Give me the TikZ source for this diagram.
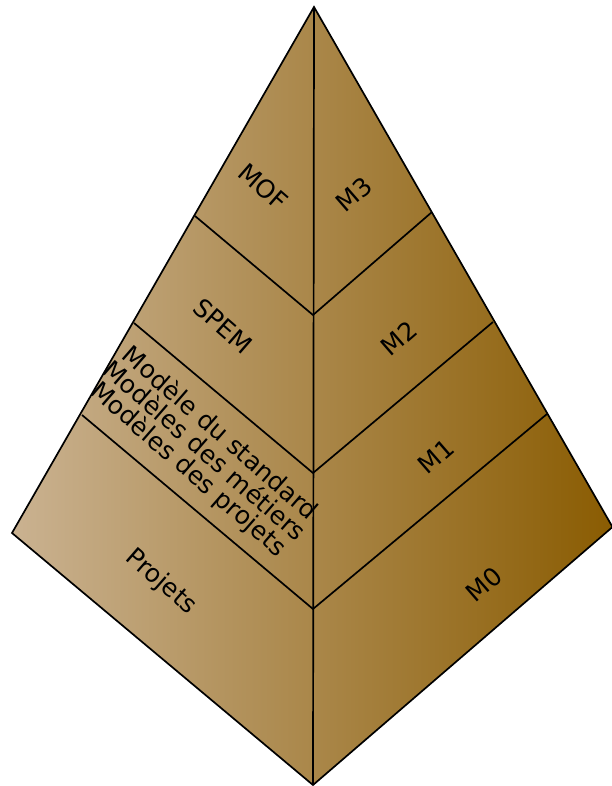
\documentclass[tikz,border=0pt]{standalone}
\usepackage{fontspec}
\setmainfont{DejaVu Sans}
\definecolor{lightend}{RGB}{202,178,145}
\definecolor{darkend}{RGB}{138,92,2}
\begin{document}
\begin{tikzpicture}[x=1pt,y=-1pt,
  edge/.style={draw=black,line width=1.7pt},
  lbl/.style={font=\fontsize{25}{24}\selectfont,text=black,inner sep=0pt,align=center},
  lefttxt/.style={lbl,rotate=-41},
  righttxt/.style={lbl,rotate=41}]
\useasboundingbox (0,0) rectangle (612,786);
% outer vertices
\coordinate (top) at (314,7);
\coordinate (lft) at (12,533);
\coordinate (rgt) at (612.5,527);
\coordinate (bot) at (313,785);
% junctions
\coordinate (l1) at (195,216);
\coordinate (l2) at (134,323);
\coordinate (l3) at (82,415);
\coordinate (r1) at (432,212);
\coordinate (r2) at (493,322);
\coordinate (r3) at (547,414);
\coordinate (c1) at (313,315);
\coordinate (c2) at (313,473);
\coordinate (c3) at (313,609);
\shade[left color=lightend,right color=darkend] (top) -- (rgt) -- (bot) -- (lft) -- cycle;
\draw[edge] (top) -- (rgt) -- (bot) -- (lft) -- cycle;
\draw[edge] (top) -- (bot);
\draw[edge] (l1) -- (c1) -- (r1);
\draw[edge] (l2) -- (c2) -- (r2);
\draw[edge] (l3) -- (c3) -- (r3);
% labels
\node[lefttxt] (mof) at (263,187) {MOF};
\node[righttxt] (m3) at (354,194) {M3};
\node[lefttxt] (spem) at (223,326) {SPEM};
\node[righttxt] (m2) at (399,338) {M2};
\node[lefttxt] (mods) at (204,452) {Modèle du standard\\Modèles des métiers\\Modèles des projets};
\node[righttxt] (m1) at (436,456) {M1};
\node[lefttxt] (proj) at (161,582) {Projets};
\node[righttxt] (m0) at (484,584) {M0};
\end{tikzpicture}
\end{document}
